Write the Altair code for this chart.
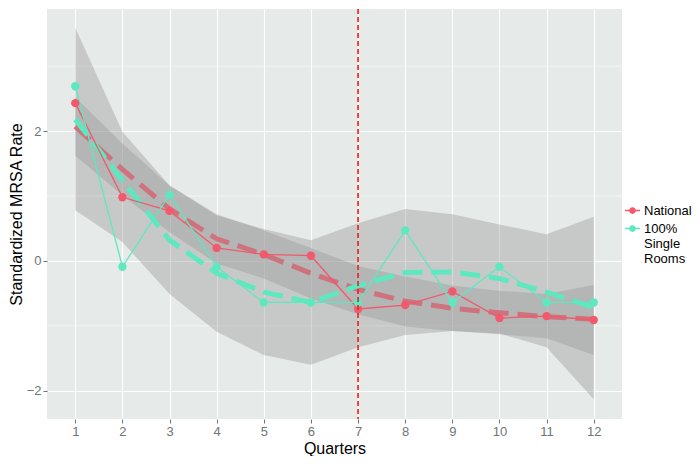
import altair as alt
import pandas as pd

quarters = list(range(1, 13))
groups = ["National", "100% Single Rooms"]

national = [2.43, 0.98, 0.77, 0.20, 0.10, 0.08, -0.74, -0.68, -0.47, -0.88, -0.85, -0.91]
single = [2.69, -0.09, 1.02, -0.09, -0.64, -0.64, -0.64, 0.47, -0.64, -0.09, -0.64, -0.64]

nat_fit = [2.07, 1.41, 0.80, 0.34, 0.10, -0.19, -0.44, -0.62, -0.73, -0.80, -0.86, -0.90]
nat_lower = [1.62, 1.01, 0.44, -0.04, -0.27, -0.58, -0.82, -1.01, -1.08, -1.13, -1.19, -1.45]
nat_upper = [2.52, 1.81, 1.16, 0.72, 0.47, 0.20, -0.08, -0.24, -0.38, -0.46, -0.51, -0.37]

sr_fit = [2.18, 1.24, 0.32, -0.19, -0.48, -0.64, -0.38, -0.18, -0.17, -0.27, -0.48, -0.72]
sr_lower = [0.78, 0.29, -0.51, -1.09, -1.45, -1.60, -1.33, -1.14, -1.08, -1.12, -1.33, -2.13]
sr_upper = [3.59, 1.99, 1.16, 0.70, 0.49, 0.32, 0.58, 0.80, 0.72, 0.56, 0.41, 0.68]

y_minor = [-1, 1, 3]
y_major = [-2, 0, 2]
intervention_quarter = [7]

RED = "#F2596C"
CYAN = "#5EE8C0"

df = pd.DataFrame({
    "quarter": quarters * 2,
    "group": [groups[0]] * 12 + [groups[1]] * 12,
    "value": national + single,
    "fit": nat_fit + sr_fit,
    "lower": nat_lower + sr_lower,
    "upper": nat_upper + sr_upper,
})

xscale = alt.Scale(domain=[0.4, 12.6], nice=False, zero=False)
yscale = alt.Scale(domain=[-2.435, 3.88], nice=False, zero=False)
XAX = alt.Axis(values=quarters, title="Quarters", format="d")
X = alt.X("quarter:Q", scale=xscale, axis=XAX)
YAX = alt.Axis(values=y_major, title="Standardized MRSA Rate", format="d")
color_scale = alt.Scale(domain=groups, range=[RED, CYAN])

path = ("M-1,-0.09L1,-0.09L1,0.09L-1,0.09Z "
        "M0.45,0A0.45,0.45,0,1,1,-0.45,0A0.45,0.45,0,1,1,0.45,0Z")
legend = alt.Legend(
    title=None, orient="none", legendX=578, legendY=194,
    symbolType=path, symbolSize=225, symbolStrokeWidth=0,
    symbolOpacity=1,
    labelExpr="datum.label == 'National' ? 'National' : split(datum.label, ' ')",
    labelFontSize=13, labelColor="black", labelFont="Liberation Sans",
    rowPadding=3, labelLimit=200,
)

base = alt.Chart(df)

minor = alt.Chart(pd.DataFrame({"y": y_minor})).mark_rule(
    color="white", strokeWidth=0.6
).encode(y=alt.Y("y:Q", scale=yscale, axis=YAX))


def band(g):
    return base.transform_filter(alt.datum.group == g).mark_area(
        color="#999999", opacity=0.4
    ).encode(x=X, y=alt.Y("lower:Q", scale=yscale, axis=YAX), y2="upper:Q")


def fitline(g, c):
    return base.transform_filter(alt.datum.group == g).mark_line(
        color=c, strokeWidth=5, strokeDash=[20, 9]
    ).encode(x=X, y=alt.Y("fit:Q", scale=yscale, axis=YAX))


raw = base.mark_line(strokeWidth=1.3).encode(
    x=X,
    y=alt.Y("value:Q", scale=yscale, axis=YAX),
    color=alt.Color("group:N", scale=color_scale, legend=legend),
    detail="group:N",
)

pts = base.mark_circle(size=70, opacity=1).encode(
    x=X,
    y=alt.Y("value:Q", scale=yscale, axis=YAX),
    color=alt.Color("group:N", scale=color_scale, legend=legend),
)

vline = alt.Chart(pd.DataFrame({"x": intervention_quarter})).mark_rule(
    color="#EE1C1C", strokeWidth=1.6, strokeDash=[5, 3], opacity=1
).encode(x=alt.X("x:Q", scale=xscale, axis=XAX))

chart = alt.layer(
    minor,
    band(groups[0]), fitline(groups[0], RED),
    band(groups[1]), fitline(groups[1], CYAN),
    raw, pts, vline,
).properties(
    width=575, height=410,
    padding={"left": 0, "top": 0, "right": 0, "bottom": 0},
).configure_view(
    fill="#E6EAE8", stroke=None
).configure_axis(
    grid=True, gridColor="white", gridWidth=1.1,
    domain=False, tickColor="#6E7574", tickSize=4,
    labelColor="#6E7574", labelFontSize=13, labelFont="Liberation Sans",
    titleColor="black", titleFontSize=16, titleFont="Liberation Sans",
    titleFontWeight="normal", labelPadding=2, titlePadding=2,
).configure_axisY(
    titleFontSize=16, titlePadding=2
)

chart.save("out.html", embed_options={"renderer": "svg", "actions": False})
